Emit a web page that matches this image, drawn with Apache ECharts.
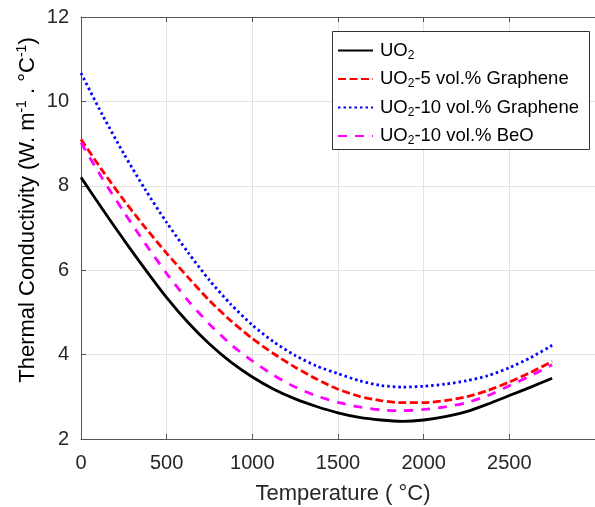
<!DOCTYPE html>
<html>
<head>
<meta charset="utf-8">
<script src="https://cdn.jsdelivr.net/npm/echarts@6/dist/echarts.min.js"></script>
<style>
  html, body { margin: 0; padding: 0; background: #fff; }
  #chart { width: 595px; height: 507px; }
</style>
</head>
<body>
<div id="chart"></div>
<script>
// Temperature grid (°C) and thermal conductivity (W/m·°C) of each fuel
const temps   = [0, 125, 250, 375, 500, 625, 750, 875, 1000, 1125, 1250, 1375,
                 1500, 1625, 1750, 1875, 2000, 2125, 2250, 2375, 2500, 2625, 2750];
const uo2     = [8.20, 7.45, 6.72, 6.02, 5.35, 4.76, 4.25, 3.82, 3.47, 3.18, 2.95, 2.77,
                 2.62, 2.51, 2.45, 2.42, 2.45, 2.53, 2.65, 2.83, 3.03, 3.23, 3.44];
const uo2Gr5  = [9.10, 8.36, 7.66, 7.01, 6.40, 5.83, 5.28, 4.80, 4.38, 4.02, 3.70, 3.42,
                 3.18, 3.01, 2.91, 2.86, 2.86, 2.91, 3.00, 3.15, 3.35, 3.58, 3.84];
const uo2Gr10 = [10.67, 9.68, 8.76, 7.91, 7.13, 6.42, 5.76, 5.19, 4.70, 4.30, 3.98, 3.73,
                 3.55, 3.38, 3.27, 3.23, 3.25, 3.30, 3.38, 3.50, 3.69, 3.93, 4.22];
const uo2BeO  = [9.02, 8.17, 7.38, 6.63, 5.92, 5.28, 4.72, 4.24, 3.85, 3.51, 3.23, 3.02,
                 2.87, 2.76, 2.69, 2.67, 2.70, 2.76, 2.86, 3.03, 3.26, 3.50, 3.76];

const seriesNames = ['UO2', 'UO2-5 vol.% Graphene', 'UO2-10 vol.% Graphene', 'UO2-10 vol.% BeO'];
const xTicks = [0, 500, 1000, 1500, 2000, 2500];
const yTicks = [2, 4, 6, 8, 10, 12];

const FONT = 'Liberation Sans, Arial, Helvetica, sans-serif';
const INK = '#262626';

const pairs = vals => temps.map((t, i) => [t, vals[i]]);

const lineDefs = [
  { name: seriesNames[0], data: uo2,     color: '#000000', type: 'solid',  width: 2.8 },
  { name: seriesNames[1], data: uo2Gr5,  color: '#ff0000', type: [8, 3.5], width: 2.8 },
  { name: seriesNames[2], data: uo2Gr10, color: '#0000ff', type: [2.5, 3], width: 2.8 },
  { name: seriesNames[3], data: uo2BeO,  color: '#ff00ff', type: [9, 8],   width: 2.8 }
];

const chart = echarts.init(document.getElementById('chart'), null, { renderer: 'canvas' });

const option = {
  animation: false,
  backgroundColor: '#ffffff',
  grid: { left: 81, top: 17, bottom: 68, right: -27, containLabel: false },
  xAxis: [
    {
      type: 'value', min: 0, max: 3000, interval: 500, position: 'bottom',
      axisLine: { show: true, lineStyle: { color: '#555', width: 1 } },
      axisTick: { show: true, inside: true, length: 5, lineStyle: { color: '#555' } },
      axisLabel: {
        fontSize: 20, fontFamily: FONT, color: INK, margin: 14,
        showMaxLabel: false,
        formatter: v => (xTicks.includes(v) ? String(v) : '')
      },
      splitLine: { show: true, lineStyle: { color: '#e3e3e3', width: 1 } }
    },
    {
      type: 'value', min: 0, max: 3000, interval: 500, position: 'top',
      axisLine: { show: true, lineStyle: { color: '#555', width: 1 } },
      axisTick: { show: true, inside: true, length: 5, lineStyle: { color: '#555' } },
      axisLabel: { show: false },
      splitLine: { show: false }
    }
  ],
  yAxis: {
    type: 'value', min: 2, max: 12, interval: 2,
    axisLine: { show: true, lineStyle: { color: '#555', width: 1 } },
    axisTick: { show: true, inside: true, length: 5, lineStyle: { color: '#555' } },
    axisLabel: {
      fontSize: 20, fontFamily: FONT, color: INK, margin: 12,
      formatter: v => (yTicks.includes(v) ? String(v) : '')
    },
    splitLine: { show: true, lineStyle: { color: '#e3e3e3', width: 1 } }
  },
  legend: {
    orient: 'vertical',
    left: 332, top: 36,
    itemWidth: 35, itemHeight: 14, itemGap: 8,
    z: 6,
    data: seriesNames,
    itemStyle: { opacity: 0, borderWidth: 0 },
    formatter: name => {
      const rest = name.slice(3);
      return '{n|UO}{s|2}' + (rest ? '{n|' + rest + '}' : '');
    },
    textStyle: {
      padding: [0, 0, 0, 2],
      rich: {
        n: { fontSize: 18.5, fontFamily: FONT, color: '#000', lineHeight: 22 },
        s: { fontSize: 12, fontFamily: FONT, color: '#000', lineHeight: 13, verticalAlign: 'bottom' }
      }
    }
  },
  graphic: [
    {
      type: 'rect', z: 5, silent: true,
      shape: { x: 332.5, y: 31.5, width: 257, height: 118 },
      style: { fill: '#ffffff', stroke: '#333333', lineWidth: 1 }
    },
    {
      type: 'text', z: 5, silent: true,
      x: 343, y: 494,
      style: {
        text: 'Temperature ( °C)',
        font: '22px ' + FONT, fill: INK,
        textAlign: 'center', textVerticalAlign: 'middle'
      }
    },
    {
      type: 'text', z: 5, silent: true,
      x: 28, y: 210, rotation: Math.PI / 2,
      style: {
        text: '{a|Thermal Conductivity (W. m}{p|-1}{a| . °C}{p|-1}{a|)}',
        textAlign: 'center', textVerticalAlign: 'middle',
        rich: {
          a: { fontSize: 22, fontFamily: FONT, color: INK, lineHeight: 26 },
          p: { fontSize: 14, fontFamily: FONT, color: INK, lineHeight: 14, verticalAlign: 'top' }
        }
      }
    }
  ],
  series: lineDefs.map(d => ({
    name: d.name,
    type: 'line',
    xAxisIndex: 0,
    data: pairs(d.data),
    smooth: 0.25,
    symbol: 'none',
    showSymbol: false,
    clip: true,
    lineStyle: { color: d.color, width: d.width, type: d.type, cap: 'butt' },
    itemStyle: { color: d.color },
    z: 2
  }))
};

chart.setOption(option);
</script>
</body>
</html>
